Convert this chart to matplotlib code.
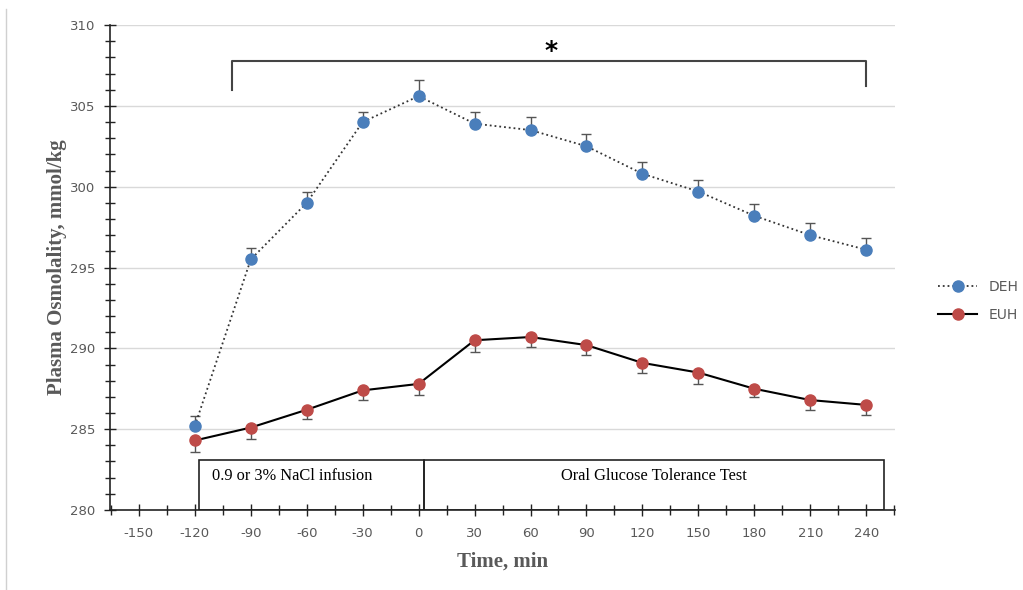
import numpy as np
import matplotlib.pyplot as plt
from matplotlib.ticker import MultipleLocator

plt.rcParams['axes.unicode_minus'] = False

# Данные
time_min = [-120, -90, -60, -30, 0, 30, 60, 90, 120, 150, 180, 210, 240]
deh_mean = [285.2, 295.5, 299.0, 304.0, 305.6, 303.9, 303.5, 302.5, 300.8, 299.7, 298.2, 297.0, 296.1]
deh_err = [0.6, 0.7, 0.7, 0.6, 1.0, 0.7, 0.8, 0.75, 0.7, 0.7, 0.7, 0.75, 0.75]
euh_mean = [284.3, 285.1, 286.2, 287.4, 287.8, 290.5, 290.7, 290.2, 289.1, 288.5, 287.5, 286.8, 286.5]
euh_err = [0.7, 0.7, 0.6, 0.6, 0.7, 0.7, 0.6, 0.6, 0.6, 0.7, 0.5, 0.6, 0.6]
x_ticks = [-150, -120, -90, -60, -30, 0, 30, 60, 90, 120, 150, 180, 210, 240]
y_ticks = [280, 285, 290, 295, 300, 305, 310]

blue = '#4a7ebb'
red = '#be4b48'
gray_text = '#595959'

fig = plt.figure(figsize=(10.23, 5.90), dpi=100)
ax = fig.add_axes([0.1075, 0.1356, 0.7675, 0.822])

# Сетка
for yv in y_ticks[1:]:
    ax.axhline(yv, color='#d9d9d9', lw=1, zorder=0)

# Серии
ax.errorbar(time_min, deh_mean, yerr=[np.zeros(len(deh_err)), deh_err],
            fmt='none', ecolor='#555555', elinewidth=1, capsize=3.5, capthick=1, zorder=2)
ax.plot(time_min, deh_mean, linestyle=':', color='#333333', lw=1.3, zorder=3,
        marker='o', markersize=8, markerfacecolor=blue, markeredgecolor=blue, label='DEH')
ax.errorbar(time_min, euh_mean, yerr=[euh_err, np.zeros(len(euh_err))],
            fmt='none', ecolor='#555555', elinewidth=1, capsize=3.5, capthick=1, zorder=2)
ax.plot(time_min, euh_mean, linestyle='-', color='black', lw=1.5, zorder=3,
        marker='o', markersize=8, markerfacecolor=red, markeredgecolor=red, label='EUH')

# Оси
ax.set_xlim(-165.5, 255.5)
ax.set_ylim(280, 310)
ax.set_xticks(x_ticks)
ax.set_yticks(y_ticks)
ax.xaxis.set_minor_locator(MultipleLocator(15))
ax.yaxis.set_minor_locator(MultipleLocator(1))
ax.tick_params(axis='both', which='major', direction='inout', length=9, width=1,
               colors='#222222', labelcolor=gray_text, labelsize=9.5)
ax.tick_params(axis='both', which='minor', direction='inout', length=7, width=1, colors='#222222')
ax.tick_params(axis='x', pad=8)
ax.tick_params(axis='y', pad=6)
for s in ['top', 'right']:
    ax.spines[s].set_visible(False)
for s in ['left', 'bottom']:
    ax.spines[s].set_color('#222222')
    ax.spines[s].set_linewidth(1.2)

ax.set_xlabel('Time, min', fontsize=15, fontweight='bold', family='Liberation Serif',
              color=gray_text, labelpad=8)
ax.set_ylabel('Plasma Osmolality, mmol/kg', fontsize=15, fontweight='bold',
              family='Liberation Serif', color=gray_text, labelpad=2)

# Скобка значимости
ax.plot([-100, -100, 240, 240], [306.0, 307.8, 307.8, 306.2], color='#444444', lw=1.5,
        clip_on=False)
ax.text(71, 307.65, '*', ha='center', va='bottom', fontsize=18, fontweight='bold')

# Прямоугольники с подписями
ax.add_patch(plt.Rectangle((-118, 280), 121, 3.1, fill=False, edgecolor='#222222', lw=1.2, zorder=4))
ax.add_patch(plt.Rectangle((3, 280), 246.5, 3.1, fill=False, edgecolor='#222222', lw=1.2, zorder=4))
ax.text(-111, 282.1, '0.9 or 3% NaCl infusion', ha='left', va='center',
        fontsize=11.8, family='Liberation Serif')
ax.text(126, 282.1, 'Oral Glucose Tolerance Test', ha='center', va='center',
        fontsize=11.8, family='Liberation Serif')

# Легенда
fig.legend(loc='center left', bbox_to_anchor=(0.905, 0.49), frameon=False,
           fontsize=10, labelcolor=gray_text, handlelength=2.8, labelspacing=1.0)

# Рамка слева
fig.add_artist(plt.Line2D([0.006, 0.006], [0.0, 0.985], color='#d0d0d0', lw=1))

fig.savefig('out.png', dpi=100)
